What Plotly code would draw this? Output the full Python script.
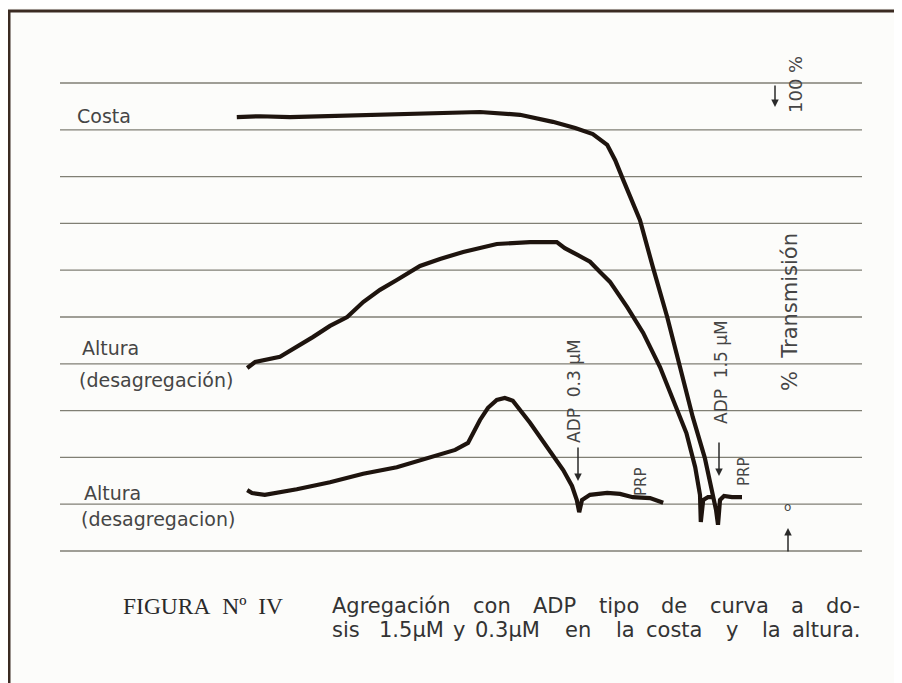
import plotly.graph_objects as go

W, H = 902, 683
OFF = 8  # page body margin in the browser

# ---- data (time in arbitrary chart units, transmission in chart divisions x10) ----
grid_levels = [0, 10, 20, 30, 40, 50, 60, 70, 80, 90, 100]
grid_span = [0.0, 100.25]

costa_t = [22.1, 25.0, 28.75, 32.5, 37.5, 45.0, 52.5, 57.5, 61.6, 64.4, 66.6, 68.4, 69.4,
           70.4, 71.5, 72.5, 74.1, 75.9, 77.5, 79.1, 80.6, 81.5, 82.0, 82.25, 82.5, 83.0, 84.0, 85.25]
costa_v = [92.7, 92.9, 92.7, 92.9, 93.2, 93.6, 93.8, 93.2, 91.7, 90.4, 89.1, 86.8, 83.5,
           79.3, 75.0, 70.7, 60.7, 50.0, 39.3, 28.6, 19.9, 13.0, 8.8, 5.6, 10.9, 11.75, 11.5, 11.5]

altura1_t = [23.4, 24.4, 27.5, 30.0, 31.6, 33.75, 35.9, 37.9, 40.0, 42.1, 45.0, 47.5, 50.4,
             54.6, 58.75, 62.1, 63.1, 64.75, 66.25, 67.5, 68.75, 70.9, 72.9, 75.0, 76.7, 78.3,
             79.4, 80.0, 80.1, 80.4, 81.0, 81.5]
altura1_v = [39.1, 40.4, 41.5, 44.0, 45.7, 48.1, 50.0, 53.2, 55.8, 57.9, 60.9, 62.4, 63.9,
             65.6, 66.0, 66.0, 64.7, 63.2, 61.8, 59.6, 57.5, 52.1, 46.6, 39.3, 32.3, 25.2,
             17.9, 12.0, 6.2, 10.9, 11.5, 11.5]

altura2_t = [23.4, 24.0, 25.6, 29.6, 33.75, 37.9, 42.1, 46.25, 49.4, 51.0, 51.75, 52.5, 53.5,
             54.6, 55.6, 56.6, 58.75, 60.9, 62.9, 64.0, 64.6, 64.9, 65.25, 66.25, 68.4, 70.0,
             71.6, 73.75, 75.4]
altura2_v = [13.0, 12.4, 12.0, 13.2, 14.7, 16.5, 17.9, 19.9, 21.6, 23.1, 25.4, 28.0, 30.6,
             32.3, 32.7, 32.1, 27.4, 22.2, 17.3, 13.9, 10.9, 8.3, 10.9, 12.0, 12.4, 12.2,
             11.5, 11.3, 10.3]

caption_line1 = ["Agregación", "con", "ADP", "tipo", "de", "curva", "a", "do-"]
caption_line2 = ["sis", "1.5\u00b5M", "y", "0.3\u00b5M", "en", "la", "costa", "y", "la", "altura."]

# ---- styling ----
BG = "#fcfcfa"
GRID = "#807f74"
INK = "#1e140e"
TXT = "#454545"
SANS = "DejaVu Sans"

fig = go.Figure()

for lv in grid_levels:
    fig.add_trace(go.Scatter(x=grid_span, y=[lv, lv], mode="lines",
                             line=dict(color=GRID, width=1.3),
                             hoverinfo="skip", showlegend=False))

for t, v in [(costa_t, costa_v), (altura1_t, altura1_v), (altura2_t, altura2_v)]:
    fig.add_trace(go.Scatter(x=t, y=v, mode="lines",
                             line=dict(color=INK, width=4.2),
                             hoverinfo="skip", showlegend=False))


def P(px, py):
    return (px - OFF) / W, 1 - (py - OFF) / H


annotations = []


def text(s, px, py, size=17, angle=0, xanchor="left", font=SANS, color=TXT):
    x, y = P(px, py)
    annotations.append(dict(text=s, x=x, y=y, xref="paper", yref="paper",
                            xanchor=xanchor, yanchor="middle", textangle=angle,
                            showarrow=False,
                            font=dict(family=font, size=size, color=color)))


def arrow(px_head, py_head, py_tail):
    x, y = P(px_head, py_head)
    annotations.append(dict(text="", x=x, y=y, xref="paper", yref="paper",
                            ax=0, ay=py_tail - py_head, showarrow=True,
                            arrowhead=2, arrowsize=1, arrowwidth=1.5,
                            arrowcolor="#2a2a2a"))


text("Costa", 75, 116, 19)
text("Altura", 80, 348, 19)
text("(desagregación)", 77, 380, 19)
text("Altura", 82, 493, 19)
text("(desagregacion)", 79, 519, 19)

text("ADP\u00a0\u00a00.3\u00a0\u00b5M", 574, 391, 17, -90, "center")
text("ADP\u00a0\u00a01.5\u00a0\u00b5M", 721, 372, 17, -90, "center")
text("PRP", 641, 482, 15, -90, "center")
text("PRP", 744, 472, 15, -90, "center")
text("%\u00a0\u00a0Transmisión", 790, 312, 21, -90, "center")
text("100\u00a0%", 795, 85, 18, -90, "center")
text("o", 787, 507, 12, 0, "center")

arrow(578, 481, 446)
arrow(719, 476, 441)
arrow(775, 107, 84)
arrow(788, 528, 553)

text("FIGURA\u00a0\u00a0N\u00ba\u00a0\u00a0IV", 121, 606, 23.5, 0, "left", "Liberation Serif", "#2a2a2a")

line1_x = [330, 471, 531, 597, 659, 708, 789, 824]
line2_x = [330, 377, 451, 473, 563, 614, 644, 724, 760, 790]
for w, xx in zip(caption_line1, line1_x):
    text(w, xx, 606, 21, 0, "left", SANS, "#333333")
for w, xx in zip(caption_line2, line2_x):
    text(w, xx, 630, 21, 0, "left", SANS, "#333333")

# frame of the scanned page
shapes = [
    dict(type="line", xref="paper", yref="paper", x0=(8 - OFF) / W, x1=1,
         y0=1 - (11 - OFF) / H, y1=1 - (11 - OFF) / H,
         line=dict(color="#3b2b22", width=3)),
    dict(type="line", xref="paper", yref="paper", x0=(9 - OFF) / W, x1=(9 - OFF) / W,
         y0=1 - (11 - OFF) / H, y1=0,
         line=dict(color="#3b2b22", width=3)),
]

x_lo = (OFF - 60) / 8
x_hi = (OFF + W - 60) / 8
y_hi = (551 - OFF) / 4.68
y_lo = (551 - (OFF + H)) / 4.68

fig.update_layout(
    width=W, height=H, autosize=False,
    margin=dict(l=0, r=0, t=0, b=0),
    paper_bgcolor=BG, plot_bgcolor=BG,
    xaxis=dict(range=[x_lo, x_hi], visible=False, fixedrange=True),
    yaxis=dict(range=[y_lo, y_hi], visible=False, fixedrange=True),
    annotations=annotations, shapes=shapes,
    showlegend=False,
)

fig.write_html("out.html")
